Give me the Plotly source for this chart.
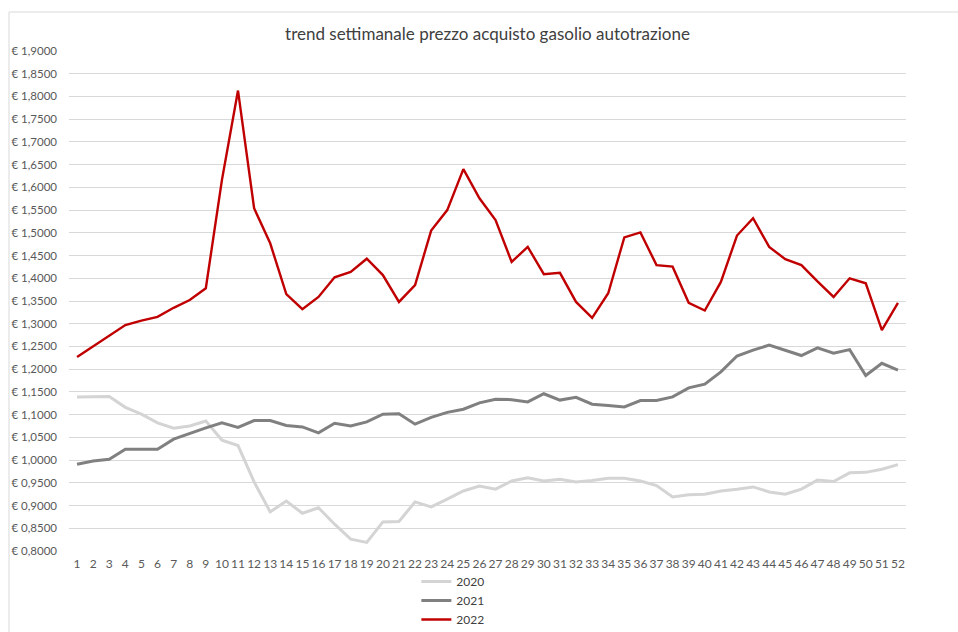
import plotly.graph_objects as go

# Weekly diesel purchase price (EUR/litre), weeks 1-52
weeks = list(range(1, 53))

price_2020 = [1.139, 1.140, 1.140, 1.116, 1.101, 1.082, 1.070, 1.075, 1.086, 1.044,
              1.032, 0.952, 0.886, 0.910, 0.883, 0.895, 0.859, 0.826, 0.819, 0.864,
              0.865, 0.908, 0.897, 0.914, 0.932, 0.943, 0.936, 0.954, 0.961, 0.954,
              0.958, 0.952, 0.955, 0.960, 0.960, 0.954, 0.944, 0.919, 0.924, 0.925,
              0.932, 0.936, 0.941, 0.930, 0.925, 0.936, 0.956, 0.953, 0.972, 0.973,
              0.980, 0.990]

price_2021 = [0.991, 0.998, 1.002, 1.024, 1.024, 1.024, 1.046, 1.059, 1.071, 1.082,
              1.072, 1.087, 1.087, 1.076, 1.073, 1.060, 1.081, 1.075, 1.084, 1.101,
              1.102, 1.079, 1.094, 1.105, 1.112, 1.126, 1.134, 1.133, 1.128, 1.146,
              1.132, 1.138, 1.123, 1.120, 1.117, 1.131, 1.131, 1.139, 1.159, 1.167,
              1.194, 1.229, 1.242, 1.253, 1.242, 1.230, 1.247, 1.235, 1.243, 1.186,
              1.213, 1.198]

price_2022 = [1.227, 1.250, 1.272, 1.297, 1.307, 1.315, 1.335, 1.352, 1.378, 1.616,
              1.813, 1.554, 1.477, 1.365, 1.332, 1.359, 1.402, 1.414, 1.443, 1.407,
              1.348, 1.385, 1.505, 1.550, 1.640, 1.576, 1.528, 1.436, 1.469, 1.409,
              1.412, 1.348, 1.313, 1.367, 1.490, 1.501, 1.429, 1.4255, 1.346, 1.329,
              1.392, 1.494, 1.532, 1.469, 1.442, 1.429, 1.393, 1.359, 1.400, 1.389,
              1.286, 1.346]

series_names = ["2020", "2021", "2022"]
series_colors = ["#d4d4d4", "#808080", "#c00000"]
series_widths = [3, 3, 2.4]

y_ticks = [0.80, 0.85, 0.90, 0.95, 1.00, 1.05, 1.10, 1.15, 1.20, 1.25, 1.30,
           1.35, 1.40, 1.45, 1.50, 1.55, 1.60, 1.65, 1.70, 1.75, 1.80, 1.85, 1.90]
y_tick_labels = ["€ " + f"{v:.4f}".replace(".", ",") for v in y_ticks]

fig = go.Figure()
for name, vals, col, w in zip(series_names, [price_2020, price_2021, price_2022],
                              series_colors, series_widths):
    fig.add_trace(go.Scatter(x=weeks, y=vals, mode="lines", name=name,
                             line=dict(color=col, width=w)))

font_family = "Lato, Open Sans, sans-serif"

fig.update_layout(
    width=958, height=632,
    margin=dict(l=69, r=52, t=51, b=81, autoexpand=False),
    paper_bgcolor="white", plot_bgcolor="white",
    title=dict(text="trend settimanale prezzo acquisto gasolio autotrazione",
               x=0.5, xref="paper", xanchor="center", y=1 - 34 / 632, yanchor="middle",
               font=dict(family=font_family, size=17, color="#404040")),
    xaxis=dict(range=[0.5, 52.5], tickmode="array", tickvals=weeks,
               ticktext=[str(w) for w in weeks], showgrid=False, zeroline=False,
               showline=False, ticks="", tickangle=0, ticklabelstandoff=4,
               tickfont=dict(family=font_family, size=12, color="#595959")),
    yaxis=dict(range=[0.8, 1.9], tickmode="array", tickvals=y_ticks,
               ticktext=y_tick_labels, showgrid=True, gridcolor="#d9d9d9",
               gridwidth=1, zeroline=False, showline=False, ticks="",
               ticklabelstandoff=11,
               tickfont=dict(family=font_family, size=11.5, color="#595959")),
    legend=dict(orientation="v", x=0.415, xanchor="left", y=-0.032, yanchor="top",
                font=dict(family=font_family, size=12, color="#404040"),
                tracegroupgap=0, itemwidth=30, bgcolor="rgba(0,0,0,0)"),
    showlegend=True,
    shapes=[dict(type="rect", xref="paper", yref="paper",
                 x0=(9 - 69) / 837, x1=1.3, y0=-0.5, y1=(551 - 12) / 500,
                 line=dict(color="#d9d9d9", width=1), fillcolor="rgba(0,0,0,0)",
                 layer="below")],
)

fig.write_html("out.html")
